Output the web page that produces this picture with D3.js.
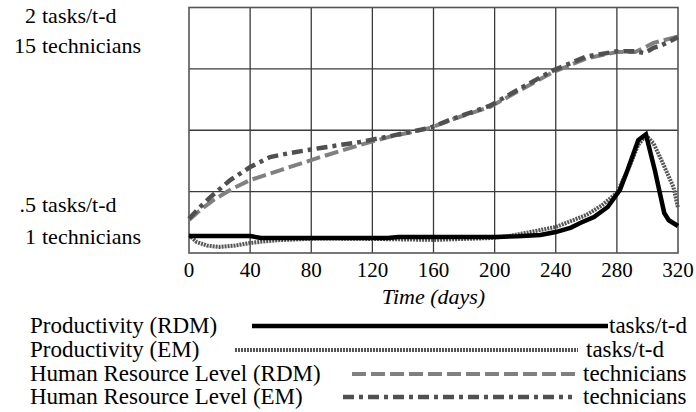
<!DOCTYPE html>
<html>
<head>
<meta charset="utf-8">
<script src="https://cdn.jsdelivr.net/npm/d3@7"></script>
</head>
<body style="margin:0">
<svg width="696" height="412" font-family="serif"></svg>
<script>
// values
const timeTicks = [0, 40, 80, 120, 160, 200, 240, 280, 320];

const prodRdmDays = [0, 40, 47, 130, 137, 200, 215, 230, 240, 250, 256, 265, 274, 282, 287, 294, 299, 305, 311, 314, 320];
const prodRdm     = [0.604, 0.604, 0.592, 0.592, 0.598, 0.598, 0.602, 0.61, 0.628, 0.655, 0.683, 0.72, 0.781, 0.885, 1.007, 1.19, 1.225, 1.0, 0.744, 0.70, 0.665];

const prodEmDays = [0, 5, 12, 20, 30, 40, 50, 60, 86, 120, 160, 200, 210, 220, 240, 260, 270, 280, 288, 294, 299, 304, 310, 317, 320];
const prodEm     = [0.61, 0.567, 0.545, 0.537, 0.545, 0.561, 0.572, 0.579, 0.589, 0.586, 0.58, 0.592, 0.605, 0.622, 0.659, 0.732, 0.79, 0.867, 1.025, 1.16, 1.22, 1.17, 1.05, 0.903, 0.775];

const hrRdmDays = [0, 8, 16, 28, 40, 60, 86, 112, 131, 158, 171, 197, 217, 238, 260, 280, 292, 304, 320];
const hrRdm     = [2.88, 3.5, 4.02, 4.65, 5.16, 5.73, 6.47, 7.16, 7.62, 8.13, 8.58, 9.33, 10.3, 11.3, 12.1, 12.46, 12.46, 12.98, 13.35];

const hrEmDays = [0, 7, 14, 27, 40, 53, 66, 86, 112, 131, 158, 171, 197, 217, 238, 260, 280, 292, 298, 304, 308, 320];
const hrEm     = [2.95, 3.6, 4.19, 5.16, 5.9, 6.47, 6.7, 6.99, 7.33, 7.65, 8.15, 8.6, 9.4, 10.4, 11.4, 12.2, 12.5, 12.5, 12.4, 12.7, 12.8, 13.3];

const axisTop = ["2", "tasks/t-d", "15", "technicians"];
const axisBottom = [".5", "tasks/t-d", "1", "technicians"];

const seriesNames = ["Productivity (RDM)", "Productivity (EM)", "Human Resource Level (RDM)", "Human Resource Level (EM)"];
const seriesUnits = ["tasks/t-d", "tasks/t-d", "technicians", "technicians"];

const svg = d3.select("svg");
const plotLeft = 189, plotRight = 678, plotTop = 7.5, plotBottom = 253;

const x = d3.scaleLinear().domain([0, 320]).range([plotLeft, plotRight]);
const yProd = d3.scaleLinear().domain([0.5, 2]).range([plotBottom, plotTop]);
const yHr = d3.scaleLinear().domain([1, 15]).range([plotBottom, plotTop]);

function label(px, py, str, size, anchor) {
    return svg.append("text")
        .style("font-family", "serif")
        .style("font-size", size + "px")
        .attr("x", px).attr("y", py)
        .attr("text-anchor", anchor || "start")
        .text(str);
}

// grid
const grid = svg.append("g");
grid.selectAll(".vg").data(timeTicks.slice(1, -1)).enter().append("line")
    .attr("x1", d => x(d)).attr("x2", d => x(d))
    .attr("y1", plotTop).attr("y2", plotBottom)
    .attr("stroke", "#3a3a3a").attr("stroke-width", 1.3);
grid.selectAll(".hg").data([4.5, 8, 11.5]).enter().append("line")
    .attr("x1", plotLeft).attr("x2", plotRight)
    .attr("y1", d => yHr(d)).attr("y2", d => yHr(d))
    .attr("stroke", "#3a3a3a").attr("stroke-width", 1.3);
svg.append("rect")
    .attr("x", plotLeft).attr("y", plotTop)
    .attr("width", plotRight - plotLeft).attr("height", plotBottom - plotTop)
    .attr("fill", "none").attr("stroke", "#555").attr("stroke-width", 1.6);

// lines
const styles = [
    {color: "#000", width: 4.5, dash: null},
    {color: "#555", width: 4, dash: "2,1"},
    {color: "#808080", width: 4, dash: "14,5"},
    {color: "#505050", width: 4.5, dash: "11,5,4,5"}
];

function pairs(days, vals) { return days.map((d, i) => [d, vals[i]]); }

const plotData = [
    {pts: pairs(hrRdmDays, hrRdm), y: yHr, s: styles[2]},
    {pts: pairs(hrEmDays, hrEm), y: yHr, s: styles[3]},
    {pts: pairs(prodEmDays, prodEm), y: yProd, s: styles[1]},
    {pts: pairs(prodRdmDays, prodRdm), y: yProd, s: styles[0]}
];

plotData.forEach(p => {
    svg.append("path")
        .datum(p.pts)
        .attr("d", d3.line().x(d => x(d[0])).y(d => p.y(d[1])))
        .attr("fill", "none")
        .attr("stroke", p.s.color)
        .attr("stroke-width", p.s.width)
        .attr("stroke-dasharray", p.s.dash);
});

// x axis labels
timeTicks.forEach(t => label(x(t), 277, String(t), 21, "middle"));
label(x(160), 304, "Time (days)", 22, "middle").style("font-style", "italic");

// left axis labels
function axisLabels(arr, y1, y2) {
    label(36, y1, arr[0], 22, "end");
    label(42, y1, arr[1], 22);
    label(36, y2, arr[2], 22, "end");
    label(42, y2, arr[3], 22);
}
axisLabels(axisTop, 23, 53);
axisLabels(axisBottom, 212, 244);

// legend
const legendRows = [
    {y: 326, x1: 252, x2: 608, ux: 609},
    {y: 350, x1: 235, x2: 578, ux: 586},
    {y: 374, x1: 352, x2: 580, ux: 583},
    {y: 397, x1: 343, x2: 572, ux: 583}
];

legendRows.forEach((r, i) => {
    label(30, r.y + 7, seriesNames[i], 23);
    svg.append("line")
        .attr("x1", r.x1).attr("x2", r.x2)
        .attr("y1", r.y).attr("y2", r.y)
        .attr("stroke", styles[i].color)
        .attr("stroke-width", styles[i].width)
        .attr("stroke-dasharray", styles[i].dash);
    label(r.ux, r.y + 7, seriesUnits[i], 23);
});
</script>
</body>
</html>
